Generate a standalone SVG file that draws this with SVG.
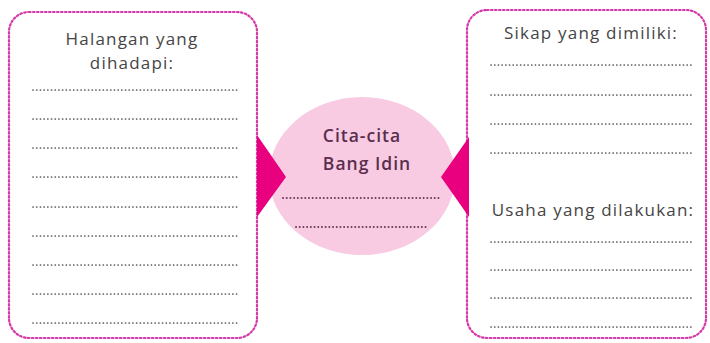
<svg xmlns="http://www.w3.org/2000/svg" width="710" height="343" viewBox="0 0 710 343">
<style>
.box{fill:#fff;stroke:#d63aa8;stroke-width:2.2;stroke-dasharray:1.6 2.4;stroke-linecap:round}
.dl{stroke:#555;stroke-width:1.7;stroke-dasharray:0.1 3.6;stroke-linecap:round;fill:none}
.dl2{stroke:#6a3a5a;stroke-width:1.9;stroke-dasharray:0.1 3.6;stroke-linecap:round;fill:none}
.t{font-family:"Open Sans","Noto Sans",sans-serif;font-size:17px;fill:#454545;text-anchor:middle;letter-spacing:1.2px}
.tc{font-family:"Open Sans","Noto Sans",sans-serif;font-size:17.5px;fill:#5a2e4e;text-anchor:middle;font-weight:600;letter-spacing:1px}
.tri{fill:#e8007f}
</style>
<rect width="710" height="343" fill="#fff"/>
<g id="left-box">
<rect class="box" x="9" y="12" width="248" height="326" rx="20"/>
<text class="t" x="132" y="45">Halangan yang</text>
<text class="t" x="132" y="69">dihadapi:</text>
<path class="dl" d="M33 90H237M33 119H237M33 148H237M33 177H237M33 207H237M33 236H237M33 265H237M33 294H237M33 323H237"/>
</g>
<g id="right-box">
<rect class="box" x="467" y="10" width="239" height="328" rx="20"/>
<text class="t" x="591" y="39">Sikap yang dimiliki:</text>
<path class="dl" d="M491 65H694M491 95H694M491 124H694M491 153H694"/>
<text class="t" x="593" y="216">Usaha yang dilakukan:</text>
<path class="dl" d="M491 242H694M491 270H694M491 298H694M491 327H694"/>
</g>
<g id="center">
<ellipse cx="362" cy="176" rx="93" ry="79" fill="#f8cbe2"/>
<text class="tc" x="362" y="142">Cita-cita</text>
<text class="tc" x="367" y="170">Bang Idin</text>
<path class="dl2" d="M283 198H442M296 227H428"/>
</g>
<g id="connectors">
<polygon class="tri" points="257,135 286,177 257,217"/>
<polygon class="tri" points="469,137 441,177 469,217"/>
</g>
</svg>
